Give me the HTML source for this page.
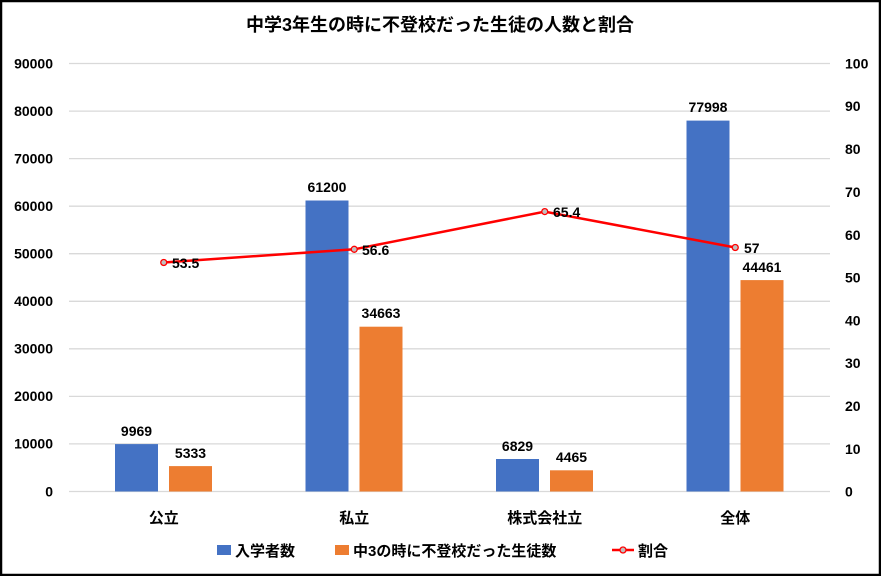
<!DOCTYPE html>
<html><head><meta charset="utf-8"><style>
html,body{margin:0;padding:0;background:#fff}
svg text{font-family:"Liberation Sans","Noto Sans CJK JP",sans-serif;font-weight:bold;fill:#000}
</style></head><body>
<svg width="881" height="576" viewBox="0 0 881 576" xmlns="http://www.w3.org/2000/svg">
<rect x="1" y="1" width="879" height="574" fill="#fff" stroke="#000" stroke-width="2.5"/>
<text x="440" y="31" font-size="18" text-anchor="middle">中学3年生の時に不登校だった生徒の人数と割合</text>
<g stroke="#d9d9d9" stroke-width="1.3">
<line x1="69" x2="830" y1="63.5" y2="63.5"/><line x1="69" x2="830" y1="111.1" y2="111.1"/>
<line x1="69" x2="830" y1="158.6" y2="158.6"/><line x1="69" x2="830" y1="206.2" y2="206.2"/>
<line x1="69" x2="830" y1="253.7" y2="253.7"/><line x1="69" x2="830" y1="301.3" y2="301.3"/>
<line x1="69" x2="830" y1="348.8" y2="348.8"/><line x1="69" x2="830" y1="396.4" y2="396.4"/>
<line x1="69" x2="830" y1="443.9" y2="443.9"/><line x1="69" x2="830" y1="491.5" y2="491.5"/>
</g>
<g font-size="14" text-anchor="end">
<text x="53" y="68.5">90000</text><text x="53" y="116">80000</text><text x="53" y="163.5">70000</text>
<text x="53" y="211">60000</text><text x="53" y="258.5">50000</text><text x="53" y="306">40000</text>
<text x="53" y="353.5">30000</text><text x="53" y="401">20000</text><text x="53" y="448.5">10000</text>
<text x="53" y="496.5">0</text>
</g>
<g font-size="14" text-anchor="start">
<text x="845" y="68.5">100</text><text x="845" y="111">90</text><text x="845" y="154">80</text>
<text x="845" y="197">70</text><text x="845" y="240">60</text><text x="845" y="282.5">50</text>
<text x="845" y="325.5">40</text><text x="845" y="368">30</text><text x="845" y="411">20</text>
<text x="845" y="454">10</text><text x="845" y="496.5">0</text>
</g>
<g fill="#4472c4">
<rect x="115" y="444.1" width="43" height="47.4"/>
<rect x="305.5" y="200.5" width="43" height="291"/>
<rect x="496" y="459" width="43" height="32.5"/>
<rect x="686.5" y="120.6" width="43" height="370.9"/>
</g>
<g fill="#ed7d31">
<rect x="169" y="466.1" width="43" height="25.4"/>
<rect x="359.5" y="326.7" width="43" height="164.8"/>
<rect x="550" y="470.3" width="43" height="21.2"/>
<rect x="740.5" y="280.1" width="43" height="211.4"/>
</g>
<g font-size="14" text-anchor="middle">
<text x="136.5" y="436">9969</text><text x="190.5" y="458">5333</text>
<text x="327" y="192">61200</text><text x="381" y="318">34663</text>
<text x="517.5" y="451">6829</text><text x="571.5" y="462">4465</text>
<text x="708" y="112">77998</text><text x="762" y="272">44461</text>
</g>
<polyline points="163.75,262.5 354.25,249.3 544.75,211.6 735.25,247.5" fill="none" stroke="#ff0000" stroke-width="2.5"/>
<g fill="#bfbfbf" stroke="#ff0000" stroke-width="1.3">
<circle cx="163.75" cy="262.5" r="3"/><circle cx="354.25" cy="249.3" r="3"/>
<circle cx="544.75" cy="211.6" r="3"/><circle cx="735.25" cy="247.5" r="3"/>
</g>
<g font-size="14">
<text x="172" y="268">53.5</text><text x="362" y="255">56.6</text>
<text x="553" y="217">65.4</text><text x="744" y="253">57</text>
</g>
<g font-size="15" text-anchor="middle">
<text x="163.75" y="523">公立</text><text x="354.25" y="523">私立</text>
<text x="544.75" y="523">株式会社立</text><text x="735.25" y="523">全体</text>
</g>
<rect x="217" y="545" width="14" height="10" fill="#4472c4"/>
<text x="235" y="556" font-size="15">入学者数</text>
<rect x="335" y="545" width="14" height="10" fill="#ed7d31"/>
<text x="353" y="556" font-size="15">中3の時に不登校だった生徒数</text>
<line x1="612" x2="634" y1="550" y2="550" stroke="#ff0000" stroke-width="2.5"/>
<circle cx="623" cy="550" r="3" fill="#bfbfbf" stroke="#ff0000" stroke-width="1.3"/>
<text x="638" y="556" font-size="15">割合</text>
</svg>
</body></html>
